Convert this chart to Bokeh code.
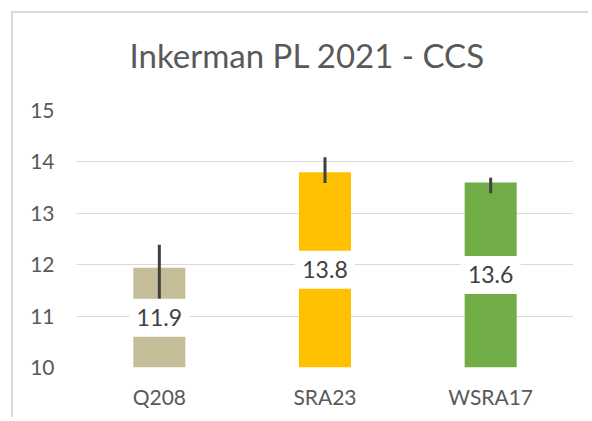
from bokeh.plotting import figure
from bokeh.models import ColumnDataSource, FixedTicker, Title, FactorRange
from bokeh.core.properties import value
from bokeh.embed import file_html
from bokeh.resources import INLINE

# ---- data ----
categories = ["Q208", "SRA23", "WSRA17"]
ccs = [11.94, 13.80, 13.60]
err_low = [11.30, 13.59, 13.39]
err_high = [12.39, 14.09, 13.69]
bar_colors = ["#C4BD97", "#FFC000", "#70AD47"]
y_ticks = [10, 11, 12, 13, 14, 15]
title_text = "Inkerman PL 2021 - CCS"

FONT = "Lato"
TXT = "#595959"

src = ColumnDataSource(dict(
    cat=categories, val=ccs, lo=err_low, hi=err_high, color=bar_colors,
    mid=[(v + y_ticks[0]) / 2 for v in ccs],
    lab=["%.1f" % v for v in ccs],
))

p = figure(
    x_range=FactorRange(*categories, range_padding=0),
    y_range=(y_ticks[0], y_ticks[-1]),
    frame_width=497, frame_height=257,
    min_border_left=63, min_border_right=15, min_border_top=97, min_border_bottom=50,
    output_backend="svg", toolbar_location=None,
    styles={"margin-left": "11px", "margin-top": "11px",
            "border-left": "2px solid #d9d9d9", "border-top": "2px solid #d9d9d9"},
)
p.outline_line_color = None
p.background_fill_color = "white"
p.border_fill_color = "white"

# spacer (closest to the frame) pushes the real title upward
spacer = Title(text=" ", text_font=FONT, text_font_size="1px",
               text_color="white", standoff=33)
p.add_layout(spacer, "above")
t = Title(text=title_text, text_font=FONT, text_font_size="33px",
          text_font_style="normal", text_color=TXT, align="left",
          offset=53, standoff=0)
p.add_layout(t, "above")

p.vbar(x="cat", top="val", bottom=y_ticks[0], width=0.314, color="color",
       line_color=None, source=src)
p.segment(x0="cat", y0="lo", x1="cat", y1="hi", line_color="#404040",
          line_width=3, source=src)
p.rect(x="cat", y="mid", width=60, height=38, width_units="screen",
       height_units="screen", fill_color="white", line_color=None, source=src)
p.text(x="cat", y="mid", text="lab", source=src, text_align="center",
       text_baseline="middle", text_font=value(FONT), text_font_size="23px",
       text_color="#404040")

p.yaxis.ticker = FixedTicker(ticks=y_ticks)
for ax in (p.xaxis, p.yaxis):
    ax.axis_line_color = None
    ax.major_tick_line_color = None
    ax.minor_tick_line_color = None
    ax.major_label_text_font = FONT
    ax.major_label_text_font_size = "21px"
    ax.major_label_text_color = TXT
p.yaxis.major_label_standoff = 16
p.xaxis.major_label_standoff = 10

p.xgrid.grid_line_color = None
p.ygrid.grid_line_color = "#d9d9d9"
p.ygrid.grid_line_width = 1

open("out.html", "w").write(file_html(p, INLINE))
